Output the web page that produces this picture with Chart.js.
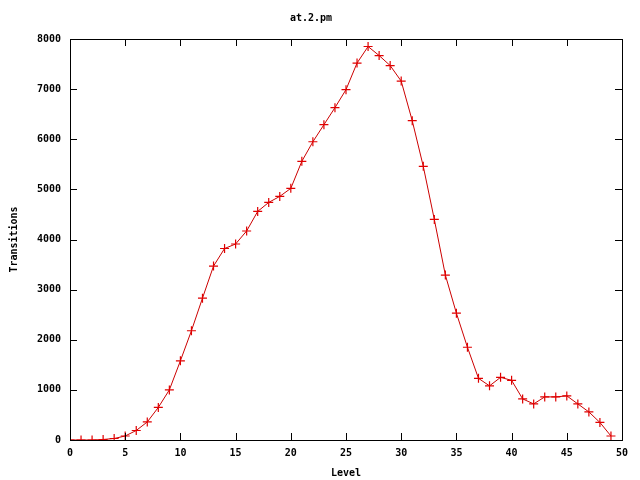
<!DOCTYPE html>
<html>
<head>
<meta charset="utf-8">
<script src="https://cdn.jsdelivr.net/npm/chart.js@4.4.1/dist/chart.umd.min.js"></script>
<style>
  html, body { margin: 0; padding: 0; background: #fff; }
  #wrap { width: 640px; height: 480px; }
</style>
</head>
<body>
<div id="wrap"><canvas id="chart_levels" width="640" height="480"></canvas></div>
<script>
// levels 0..49
const levels = [0, 1, 2, 3, 4, 5, 6, 7, 8, 9, 10, 11, 12, 13, 14, 15, 16, 17, 18, 19,
    20, 21, 22, 23, 24, 25, 26, 27, 28, 29, 30, 31, 32, 33, 34, 35, 36, 37, 38, 39,
    40, 41, 42, 43, 44, 45, 46, 47, 48, 49];
const transitions = [0, 0, 0, 10, 30, 80, 190, 360, 650, 1000, 1580, 2180, 2830, 3470, 3820, 3910, 4170, 4560, 4740, 4860,
    5020, 5560, 5950, 6290, 6630, 6990, 7520, 7850, 7670, 7470, 7160, 6370, 5460, 4400, 3290, 2530, 1850, 1230, 1080, 1250,
    1190, 820, 720, 860, 860, 880, 720, 560, 350, 80];
const xTicks = [0, 5, 10, 15, 20, 25, 30, 35, 40, 45, 50];
const yTicks = [0, 1000, 2000, 3000, 4000, 5000, 6000, 7000, 8000];

const font = { family: '"DejaVu Sans Mono", monospace', size: 10, weight: 'bold' };

// gnuplot style frame with inward ticks on all four sides
const frame = {
    id: 'frame',
    afterDatasetsDraw(chart) {
        const { ctx, chartArea: a, scales: { x, y } } = chart;
        ctx.save();
        ctx.strokeStyle = '#000';
        ctx.lineWidth = 1;
        ctx.beginPath();
        xTicks.forEach(v => {
            const px = Math.round(x.getPixelForValue(v)) + 0.5;
            ctx.moveTo(px, a.bottom); ctx.lineTo(px, a.bottom - 7);
            ctx.moveTo(px, a.top); ctx.lineTo(px, a.top + 7);
        });
        yTicks.forEach(v => {
            const py = Math.round(y.getPixelForValue(v)) + 0.5;
            ctx.moveTo(a.left, py); ctx.lineTo(a.left + 7, py);
            ctx.moveTo(a.right, py); ctx.lineTo(a.right - 7, py);
        });
        ctx.stroke();
        ctx.strokeRect(Math.round(a.left) + 0.5, Math.round(a.top) + 0.5,
            Math.round(a.right - a.left), Math.round(a.bottom - a.top));
        ctx.restore();
    }
};

const ctx = document.querySelector('#chart_levels').getContext('2d');
const chart = new Chart(ctx, {
    type: 'line',
    data: {
        datasets: [{
            label: 'at.2.pm',
            data: levels.map((l, i) => ({ x: l, y: transitions[i] })),
            borderColor: '#cc0000',
            borderWidth: 1,
            pointStyle: 'cross',
            pointRadius: 4.5,
            pointBorderColor: '#e00000',
            pointBorderWidth: 1.2,
            fill: false,
            tension: 0
        }]
    },
    plugins: [frame],
    options: {
        responsive: false,
        animation: false,
        layout: { padding: { left: 0, right: 18, top: 0, bottom: 0 } },
        scales: {
            x: {
                type: 'linear',
                min: 0,
                max: 50,
                afterFit: s => { s.height = 40; },
                afterBuildTicks: s => { s.ticks = xTicks.map(v => ({ value: v })); },
                grid: { display: false, drawTicks: false },
                border: { display: false },
                ticks: { color: '#000', font: font, padding: 7, maxRotation: 0, callback: v => String(v) },
                title: { display: true, text: 'Level', color: '#000', font: font, padding: { top: 0, bottom: 1 } }
            },
            y: {
                min: 0,
                max: 8000,
                afterFit: s => { s.width = 70; },
                afterBuildTicks: s => { s.ticks = yTicks.map(v => ({ value: v })); },
                grid: { display: false, drawTicks: false },
                border: { display: false },
                ticks: { color: '#000', font: font, padding: 9, callback: v => String(v) },
                title: { display: true, text: 'Transitions', color: '#000', font: font, padding: { top: 8, bottom: 0 } }
            }
        },
        plugins: {
            legend: { display: false },
            tooltip: { enabled: false },
            title: {
                display: true,
                text: 'at.2.pm',
                color: '#000',
                font: font,
                padding: { top: 12, bottom: 15 }
            }
        }
    }
});
</script>
</body>
</html>
